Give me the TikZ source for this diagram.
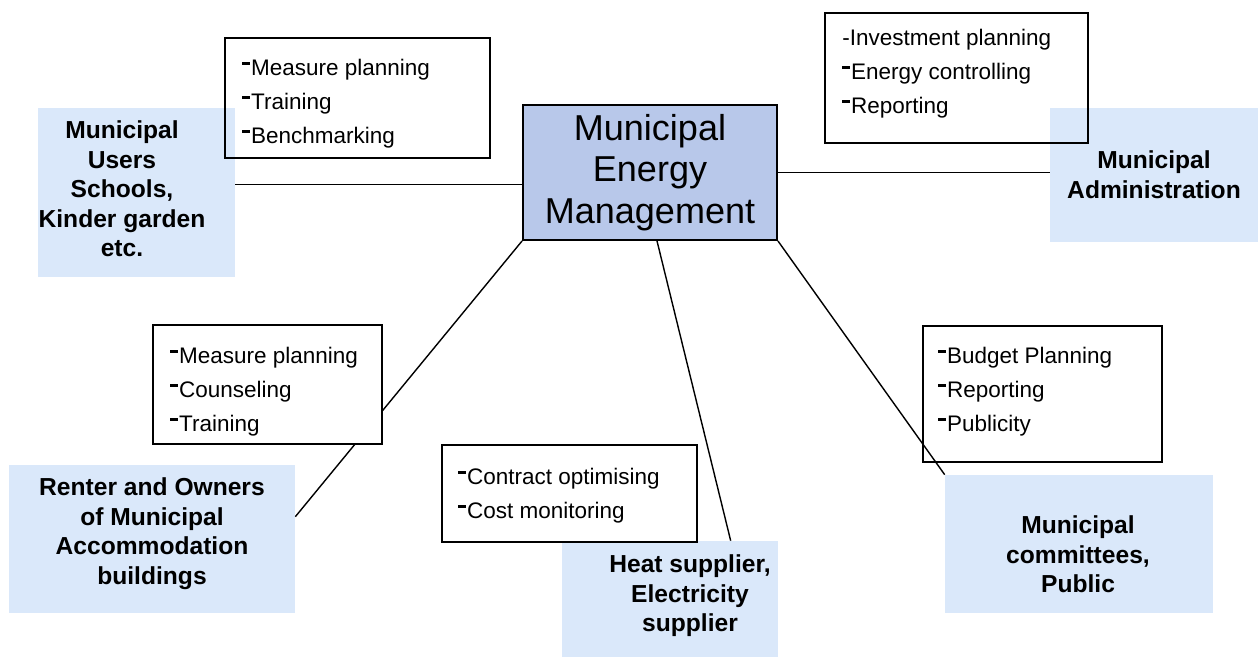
\documentclass[tikz,border=0pt]{standalone}
\usepackage{fontspec}
\setmainfont{Liberation Sans}
\usetikzlibrary{calc}

\definecolor{paleblue}{RGB}{218,232,250}
\definecolor{coreblue}{RGB}{184,200,234}
\newcommand{\bul}{\rule[.44em]{.36em}{.16em}\hspace{.03em}}

\begin{document}
\begin{tikzpicture}[x = 0.02cm, y = -0.02cm,
	role/.style = {fill = paleblue, inner sep = 0pt},
	roletext/.style = {anchor = north, align = center, inner sep = 0pt, font = \fontsize{14pt}{16.8pt}\selectfont\bfseries},
	task/.style = {draw, line width = 1.1pt, inner sep = 0pt},
	tasktext/.style = {anchor = north west, align = left, inner sep = 0pt, font = \fontsize{12.8pt}{19.4pt}\selectfont},
	link/.style = {line width = 0.8pt}]
	\useasboundingbox (0,0) rectangle (1260,657);

	\node[draw, line width = 1.1pt, fill = coreblue, minimum width = 5.08cm, minimum height = 2.7cm, align = center,
		font = \fontsize{20.5pt}{23.8pt}\selectfont] (mem) at (650,172.5) {Municipal\\Energy\\Management};

	\node[role, minimum width = 3.94cm, minimum height = 3.38cm] (users) at (136.5,192.5) {};
	\node[role, minimum width = 4.16cm, minimum height = 2.68cm] (admin) at (1154,175) {};
	\node[role, minimum width = 5.72cm, minimum height = 2.96cm] (renter) at (152,539) {};
	\node[role, minimum width = 4.32cm, minimum height = 2.32cm] (heat) at (670,599) {};
	\node[role, minimum width = 5.36cm, minimum height = 2.76cm] (comm) at (1079,544) {};

	\node[roletext] (userslab) at (122,120.3) {Municipal\\Users\\Schools,\\Kinder garden\\etc.};
	\node[roletext] (adminlab) at (1154,150.3) {Municipal\\Administration};
	\node[roletext] (renterlab) at (152,477.3) {Renter and Owners\\of Municipal\\Accommodation\\buildings};
	\node[roletext] (heatlab) at (690,554.3) {Heat supplier,\\Electricity\\supplier};
	\node[roletext] (commlab) at (1078,515.3) {Municipal\\committees,\\Public};

	\draw[link] ($(mem.west)+(0,12)$) coordinate (lend) -- (lend -| users.east);
	\draw[link] (mem.east) -- (mem.east -| admin.west);
	\draw[link] (mem.south west) -- ($(renter.north east)!0.35!(renter.south east)$);
	\draw[link] ($(mem.south)+(7,0)$) -- ($(heat.north west)!0.78!(heat.north east)$);
	\draw[link] (mem.south east) -- (comm.north west);

	\node[task, minimum width = 5.3cm, minimum height = 2.4cm] (usertask) at (357.5,98) {};
	\node[task, minimum width = 5.26cm, minimum height = 2.6cm] (admintask) at (956.5,78) {};
	\node[task, fill = white, minimum width = 4.58cm, minimum height = 2.38cm] (rentertask) at (267.5,384.5) {};
	\node[task, minimum width = 5.1cm, minimum height = 1.94cm] (heattask) at (569.5,493.5) {};
	\node[task, minimum width = 4.78cm, minimum height = 2.72cm] (commtask) at (1042.5,394) {};

	\node[tasktext] (usertasklab) at (242,58.5) {\bul Measure planning\\\bul Training\\\bul Benchmarking};
	\node[tasktext] (admintasklab) at (842,28.5) {-Investment planning\\\bul Energy controlling\\\bul Reporting};
	\node[tasktext] (rentertasklab) at (170,346.5) {\bul Measure planning\\\bul Counseling\\\bul Training};
	\node[tasktext] (heattasklab) at (458,467.5) {\bul Contract optimising\\\bul Cost monitoring};
	\node[tasktext] (commtasklab) at (938,346.5) {\bul Budget Planning\\\bul Reporting\\\bul Publicity};
\end{tikzpicture}
\end{document}
